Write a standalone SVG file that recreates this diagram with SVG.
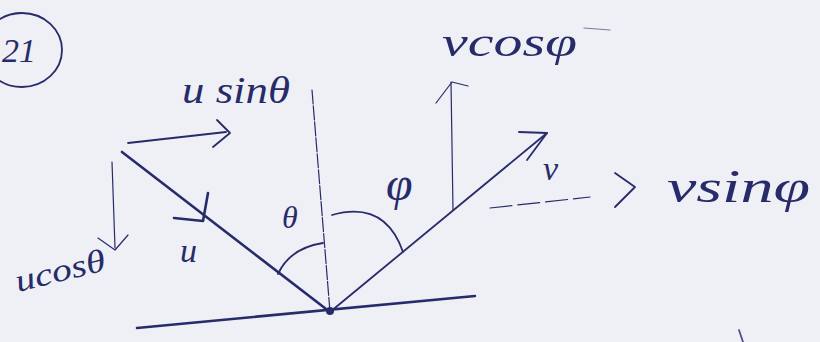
<svg xmlns="http://www.w3.org/2000/svg" width="820" height="342" viewBox="0 0 820 342">
  <style>
    .ink { stroke: #272b6a; fill: none; stroke-linecap: round; stroke-linejoin: round; }
    .thick { stroke-width: 2.6; }
    .mid { stroke-width: 1.8; }
    .thin { stroke-width: 1.2; }
    .lbl { font-family: "Liberation Serif", "DejaVu Serif", serif; font-style: italic; fill: #272b6a; }
  </style>
  <rect width="820" height="342" fill="#eef0f5"/>

  <g id="question-number">
    <ellipse class="ink mid" cx="22" cy="50" rx="40" ry="37"/>
    <text class="lbl" x="2" y="62" font-size="34" font-style="normal">21</text>
  </g>

  <g id="surface">
    <line class="ink thick" x1="137" y1="328" x2="475" y2="296"/>
    <circle cx="330" cy="311" r="4" fill="#272b6a"/>
  </g>

  <g id="normal">
    <line class="ink thin" x1="312" y1="90" x2="330" y2="312" stroke-dasharray="14 2"/>
  </g>

  <g id="connectors">
    <!-- incident ray u -->
    <line class="ink thick" x1="122" y1="152" x2="330" y2="312"/>
    <path class="ink thick" d="M174 218 L203 221 L208 193"/>
    <!-- reflected ray v -->
    <line class="ink mid" x1="330" y1="312" x2="547" y2="133"/>
    <path class="ink mid" d="M519 132 L547 133 L527 160"/>
    <!-- u sin theta -->
    <line class="ink mid" x1="128" y1="143" x2="226" y2="132"/>
    <path class="ink mid" d="M217 120 L230 133 L213 147"/>
    <!-- u cos theta -->
    <line class="ink thin" x1="112" y1="162" x2="115" y2="248"/>
    <path class="ink thin" d="M98 238 L115 250 L128 235"/>
    <!-- v cos phi -->
    <line class="ink thin" x1="453" y1="210" x2="451" y2="82"/>
    <path class="ink thin" d="M436 103 L452 82 L468 86"/>
    <!-- v sin phi -->
    <line class="ink thin" x1="490" y1="208" x2="590" y2="197" stroke-dasharray="22 6"/>
    <path class="ink mid" d="M615 173 L635 187 L615 207"/>
    <!-- angle arcs -->
    <path class="ink mid" d="M278 274 Q290 248 323 243"/>
    <path class="ink mid" d="M332 215 Q385 200 403 252"/>
  </g>

  <g id="labels">
    <text class="lbl" x="182" y="103" font-size="38" textLength="108" lengthAdjust="spacingAndGlyphs">u sinθ</text>
    <text class="lbl" x="442" y="56" font-size="40" textLength="135" lengthAdjust="spacingAndGlyphs">vcosφ</text>
    <text class="lbl" x="667" y="202" font-size="46" textLength="143" lengthAdjust="spacingAndGlyphs">vsinφ</text>
    <text class="lbl" x="18" y="292" font-size="32" textLength="92" lengthAdjust="spacingAndGlyphs" transform="rotate(-14 18 292)">ucosθ</text>
    <text class="lbl" x="180" y="262" font-size="34">u</text>
    <text class="lbl" x="543" y="180" font-size="34">v</text>
    <text class="lbl" x="282" y="228" font-size="32">θ</text>
    <text class="lbl" x="386" y="200" font-size="48">φ</text>
  </g>

  <g id="stray-marks">
    <line class="ink thin" x1="584" y1="28" x2="610" y2="30" opacity="0.6"/>
    <line class="ink mid" x1="739" y1="330" x2="743" y2="342" opacity="0.8"/>
  </g>
</svg>
